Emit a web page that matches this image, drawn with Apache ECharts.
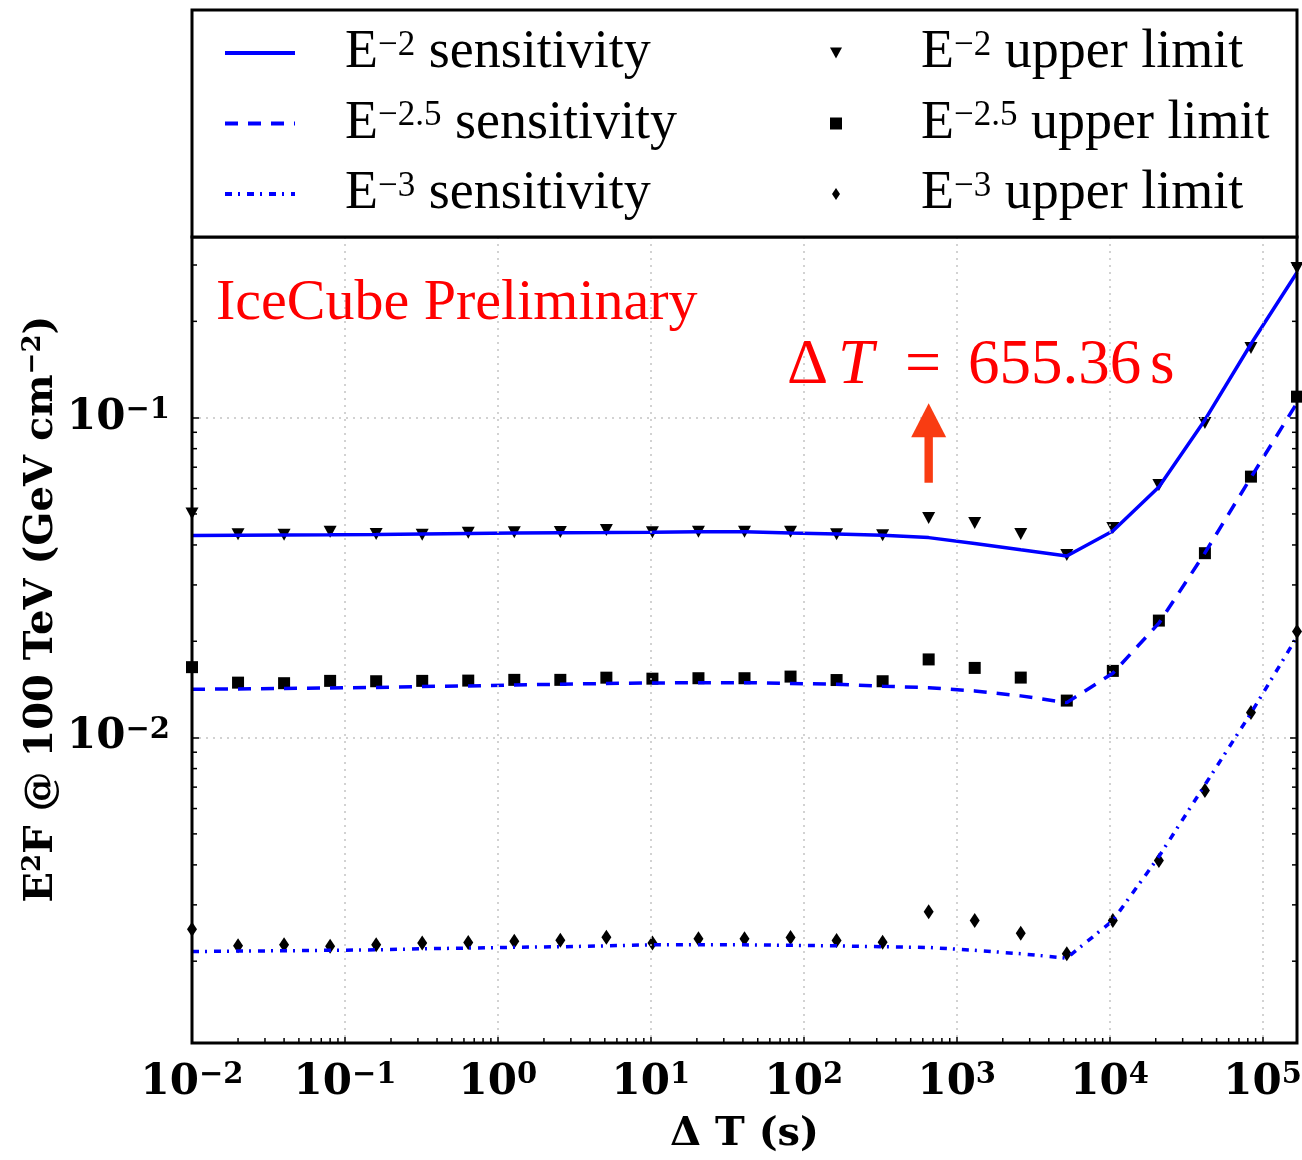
<!DOCTYPE html>
<html><head><meta charset="utf-8">
<script src="https://cdn.jsdelivr.net/npm/echarts@6/dist/echarts.min.js"></script>
<style>html,body{margin:0;padding:0;background:#fff}#c{width:1302px;height:1160px}</style>
</head><body><div id="c"></div>
<script>
// ---- data ----
const timeWindows = [0.01, 0.02, 0.04, 0.08, 0.16, 0.32, 0.64, 1.28, 2.56, 5.12, 10.24, 20.48, 40.96, 81.92, 163.84, 327.68, 655.36, 1310.72, 2621.44, 5242.88, 10485.76, 20971.52, 41943.04, 83886.08, 167772.16];
const sensE2 = [0.04284, 0.04290, 0.04298, 0.04305, 0.04315, 0.04331, 0.04346, 0.04362, 0.04371, 0.04377, 0.04384, 0.04402, 0.04402, 0.04362, 0.04331, 0.04290, 0.04217, 0.04045, 0.03865, 0.03696, 0.04425, 0.06073, 0.09835, 0.1699, 0.2843];
const ulE2 = [0.0502, 0.04320, 0.04308, 0.04402, 0.04330, 0.04308, 0.04370, 0.04383, 0.04392, 0.04456, 0.04384, 0.04402, 0.04402, 0.04402, 0.04320, 0.04290, 0.04858, 0.04687, 0.04330, 0.03723, 0.04521, 0.06162, 0.09626, 0.1651, 0.2937];
const sensE25 = [0.01416, 0.01419, 0.01424, 0.01429, 0.01435, 0.01445, 0.01450, 0.01461, 0.01468, 0.01476, 0.01481, 0.01485, 0.01485, 0.01476, 0.01468, 0.01447, 0.01432, 0.01399, 0.01350, 0.01286, 0.01589, 0.02278, 0.03778, 0.06503, 0.1112];
const ulE25 = [0.01660, 0.01485, 0.01479, 0.01504, 0.01500, 0.01504, 0.01507, 0.01515, 0.01515, 0.01539, 0.01528, 0.01533, 0.01533, 0.01551, 0.01513, 0.01500, 0.01755, 0.01651, 0.01540, 0.01305, 0.01616, 0.02321, 0.03770, 0.06541, 0.1163];
const sensE3 = [0.002144, 0.002151, 0.002156, 0.002163, 0.002171, 0.002187, 0.002198, 0.002211, 0.002219, 0.002234, 0.002250, 0.002250, 0.002250, 0.002242, 0.002234, 0.002219, 0.002208, 0.002163, 0.002110, 0.002045, 0.002680, 0.004247, 0.007114, 0.01192, 0.02064];
const ulE3 = [0.002519, 0.002234, 0.002250, 0.002229, 0.002250, 0.002278, 0.002288, 0.002310, 0.002324, 0.002378, 0.002278, 0.002349, 0.002349, 0.002371, 0.002320, 0.002294, 0.002853, 0.002680, 0.002447, 0.002110, 0.002680, 0.004126, 0.006829, 0.01197, 0.02144];

// axis ranges and tick values
const xRange = [0.01, 167772.16];
const yRange = [0.00111, 0.367];
const xMinorTicks = [0.02,0.03,0.04,0.05,0.06,0.07,0.08,0.09, 0.2,0.3,0.4,0.5,0.6,0.7,0.8,0.9, 2,3,4,5,6,7,8,9, 20,30,40,50,60,70,80,90, 200,300,400,500,600,700,800,900, 2000,3000,4000,5000,6000,7000,8000,9000, 20000,30000,40000,50000,60000,70000,80000,90000];
const yMinorTicks = [0.002,0.003,0.004,0.005,0.006,0.007,0.008,0.009, 0.02,0.03,0.04,0.05,0.06,0.07,0.08,0.09, 0.2,0.3];

// annotation
const markTime = 655.36;
const arrowTip = 0.1109, arrowTail = 0.0626;

const names = ['E-2 sensitivity','E-2.5 sensitivity','E-3 sensitivity','E-2 upper limit','E-2.5 upper limit','E-3 upper limit'];
const legendLabels = {
  'E-2 sensitivity': '{b|E}{s|−2}{b| sensitivity}',
  'E-2.5 sensitivity': '{b|E}{s|−2.5}{b| sensitivity}',
  'E-3 sensitivity': '{b|E}{s|−3}{b| sensitivity}',
  'E-2 upper limit': '{b|E}{s|−2}{b| upper limit}',
  'E-2.5 upper limit': '{b|E}{s|−2.5}{b| upper limit}',
  'E-3 upper limit': '{b|E}{s|−3}{b| upper limit}'
};

const pair = (arr) => timeWindows.map((t, i) => [t, arr[i]]);
const SERIF = 'Liberation Serif';
const BOLD = 'DejaVu Serif';
const BLUE = '#0000ff';
const RED = '#ff0000';

const legendRich = {
  b: {fontFamily: SERIF, fontSize: 54, lineHeight: 50, color: '#000'},
  s: {fontFamily: SERIF, fontSize: 35, lineHeight: 30, verticalAlign: 'top', color: '#000'}
};
const tickRich = {
  b: {fontFamily: BOLD, fontWeight: 'bold', fontSize: 42, lineHeight: 44, color: '#000'},
  s: {fontFamily: BOLD, fontWeight: 'bold', fontSize: 29, lineHeight: 28, verticalAlign: 'top', color: '#000'}
};
function powLabel(v) {
  const l = Math.log10(v), e = Math.round(l);
  if (Math.abs(l - e) > 1e-6) return '';
  return '{b|10}{s|' + (e < 0 ? '−' + (-e) : e) + '}';
}

const tickData = [];
xMinorTicks.forEach(v => tickData.push([v, yRange[0], 0]));
yMinorTicks.forEach(v => tickData.push([xRange[0], v, 1]));

const chart = echarts.init(document.getElementById('c'), null, {renderer: 'canvas'});
chart.setOption({
  animation: false,
  backgroundColor: '#fff',
  grid: {left: 192, right: 5, top: 237, bottom: 117, outerBoundsMode: 'none', containLabel: false, show: true, borderColor: '#000', borderWidth: 3, backgroundColor: 'transparent', z: 4},
  xAxis: {
    type: 'log', logBase: 10, min: xRange[0], max: xRange[1], z: 3,
    axisLine: {show: false},
    axisTick: {show: true, inside: true, length: 6, lineStyle: {color: '#000', width: 1.5}},
    axisLabel: {formatter: powLabel, rich: tickRich, margin: 18, showMinLabel: true, showMaxLabel: false},
    splitLine: {show: true, lineStyle: {color: '#c4c4c4', width: 1.5, type: [2, 5]}},
    name: '{n|Δ T (s)}', nameLocation: 'middle', nameGap: 72,
    nameTextStyle: {rich: {n: {fontFamily: BOLD, fontWeight: 'bold', fontSize: 40, color: '#000'}}}
  },
  yAxis: [{
    type: 'log', logBase: 10, min: yRange[0], max: yRange[1], z: 3,
    axisLine: {show: false},
    axisTick: {show: true, inside: true, length: 7, lineStyle: {color: '#000', width: 1.5}},
    axisLabel: {formatter: powLabel, rich: tickRich, margin: 22},
    splitLine: {show: true, lineStyle: {color: '#c4c4c4', width: 1.5, type: [2, 5]}}
  }, {
    type: 'log', logBase: 10, min: yRange[0], max: yRange[1], position: 'right', z: 3,
    axisLine: {show: false},
    axisTick: {show: true, inside: true, length: 7, lineStyle: {color: '#000', width: 1.5}},
    axisLabel: {show: false}, splitLine: {show: false}
  }],
  legend: [{
    orient: 'vertical', left: 223, top: 26, padding: 0, itemGap: 16.5, itemWidth: 70, itemHeight: 14,
    selectedMode: false, z: 10,
    itemStyle: {opacity: 0, borderWidth: 0},
    lineStyle: {width: 4},
    data: names.slice(0, 3),
    formatter: n => legendLabels[n],
    textStyle: {rich: legendRich, padding: [0, 0, 0, 45]}
  }, {
    orient: 'vertical', left: 830, top: 26, padding: 0, itemGap: 16.5, itemWidth: 12, itemHeight: 12,
    selectedMode: false, z: 10,
    data: names.slice(3),
    formatter: n => legendLabels[n],
    textStyle: {rich: legendRich, padding: [0, 0, 0, 74]}
  }],
  graphic: [
    {type: 'rect', z: 5, shape: {x: 192, y: 10, width: 1105, height: 227}, style: {fill: '#fff', stroke: '#000', lineWidth: 3}},
    {type: 'text', z: 6, x: 216, y: 304, style: {text: 'IceCube Preliminary', fontFamily: SERIF, fontSize: 58, fill: RED, align: 'left', verticalAlign: 'middle'}},
    {type: 'text', z: 6, x: 787, y: 366, style: {
      text: '{d|Δ}{t|T}{e|=}{n|655.36}{u|s}', align: 'left', verticalAlign: 'middle',
      rich: {
        d: {fontFamily: SERIF, fontSize: 64, fill: RED, width: 51, align: 'left'},
        t: {fontFamily: SERIF, fontStyle: 'italic', fontSize: 64, fill: RED, width: 67, align: 'left'},
        e: {fontFamily: SERIF, fontSize: 64, fill: RED, width: 63, align: 'left'},
        n: {fontFamily: SERIF, fontSize: 63, fill: RED, width: 182, align: 'left'},
        u: {fontFamily: SERIF, fontSize: 63, fill: RED, width: 30, align: 'left'}
      }
    }},
    {type: 'text', z: 6, x: 42, y: 609, rotation: Math.PI / 2, style: {
      text: '{b|E}{s|2}{b|F @ 100 TeV (GeV cm}{s|−2}{b|)}', align: 'center', verticalAlign: 'middle',
      rich: {b: {fontFamily: BOLD, fontWeight: 'bold', fontSize: 40, lineHeight: 44, fill: '#000'},
             s: {fontFamily: BOLD, fontWeight: 'bold', fontSize: 26, lineHeight: 26, verticalAlign: 'top', fill: '#000'}}
    }}
  ],
  series: [
    {name: names[3], type: 'scatter', data: pair(ulE2), symbol: 'path://M0,0 L13,0 L6.5,12 Z', symbolSize: [13, 12], itemStyle: {color: '#000', opacity: 1}, z: 1},
    {name: names[4], type: 'scatter', data: pair(ulE25), symbol: 'rect', symbolSize: 12, itemStyle: {color: '#000', opacity: 1}, z: 1},
    {name: names[5], type: 'scatter', data: pair(ulE3), symbol: 'path://M5,0 L10,7.5 L5,15 L0,7.5 Z', symbolSize: [10, 15], itemStyle: {color: '#000', opacity: 1}, z: 1},
    {name: names[0], type: 'line', data: pair(sensE2), symbol: 'none', lineStyle: {color: BLUE, width: 3.5, type: 'solid'}, itemStyle: {color: BLUE}, z: 2},
    {name: names[1], type: 'line', data: pair(sensE25), symbol: 'none', lineStyle: {color: BLUE, width: 3.5, type: [13, 10]}, itemStyle: {color: BLUE}, z: 2},
    {name: names[2], type: 'line', data: pair(sensE3), symbol: 'none', lineStyle: {color: BLUE, width: 3.5, type: [7, 6, 2, 7]}, itemStyle: {color: BLUE}, z: 2},
    {
      type: 'custom', data: tickData, z: 5, silent: true,
      renderItem: (params, api) => {
        const kind = api.value(2);
        if (kind === 0) {
          const p = api.coord([api.value(0), yRange[0]]);
          return {type: 'line', shape: {x1: p[0], y1: p[1], x2: p[0], y2: p[1] - 5}, style: {stroke: '#000', lineWidth: 1.5}};
        }
        const pl = api.coord([xRange[0], api.value(1)]);
        const pr = api.coord([xRange[1], api.value(1)]);
        return {type: 'group', children: [
          {type: 'line', shape: {x1: pl[0], y1: pl[1], x2: pl[0] + 5, y2: pl[1]}, style: {stroke: '#000', lineWidth: 1.5}},
          {type: 'line', shape: {x1: pr[0], y1: pr[1], x2: pr[0] - 5, y2: pr[1]}, style: {stroke: '#000', lineWidth: 1.5}}
        ]};
      }
    },
    {
      type: 'custom', data: [[markTime, arrowTip, arrowTail]], z: 6, silent: true,
      renderItem: (params, api) => {
        const tip = api.coord([api.value(0), api.value(1)]);
        const tail = api.coord([api.value(0), api.value(2)]);
        const headH = 34, headW = 17.5, shaftW = 4.2;
        return {type: 'group', children: [
          {type: 'polygon', shape: {points: [[tip[0], tip[1]], [tip[0] - headW, tip[1] + headH], [tip[0] + headW, tip[1] + headH]]}, style: {fill: '#f93c12'}},
          {type: 'rect', shape: {x: tip[0] - shaftW, y: tip[1] + headH - 1, width: shaftW * 2, height: tail[1] - tip[1] - headH + 1}, style: {fill: '#f93c12'}}
        ]};
      }
    }
  ]
});
</script>
</body></html>
